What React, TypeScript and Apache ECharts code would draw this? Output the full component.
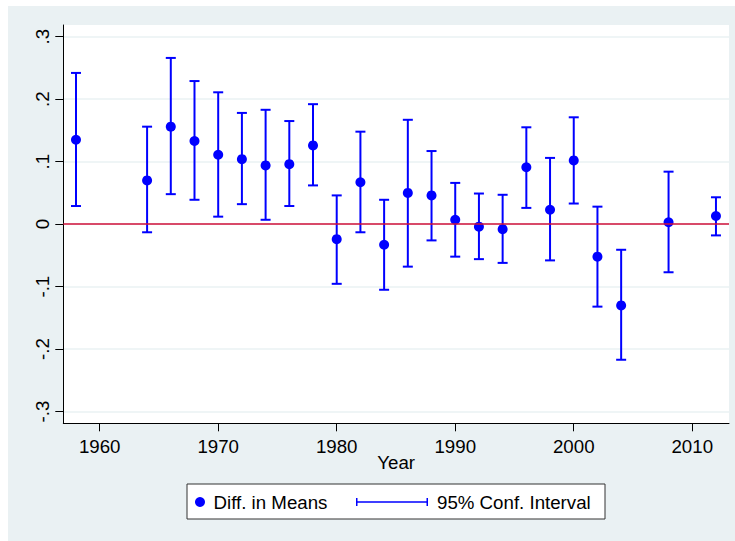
import React, { useEffect, useRef } from "react";
import * as echarts from "echarts";

const years = [1958, 1964, 1966, 1968, 1970, 1972, 1974, 1976, 1978, 1980, 1982, 1984, 1986, 1988, 1990, 1992, 1994, 1996, 1998, 2000, 2002, 2004, 2008, 2012];
const diffMeans = [0.135, 0.070, 0.156, 0.133, 0.111, 0.104, 0.094, 0.096, 0.126, -0.024, 0.067, -0.033, 0.050, 0.046, 0.007, -0.004, -0.008, 0.091, 0.023, 0.102, -0.052, -0.130, 0.003, 0.013];
const ciLower = [0.029, -0.013, 0.048, 0.039, 0.012, 0.032, 0.007, 0.029, 0.062, -0.0955, -0.013, -0.105, -0.068, -0.026, -0.052, -0.056, -0.062, 0.026, -0.058, 0.033, -0.132, -0.217, -0.077, -0.018];
const ciUpper = [0.242, 0.156, 0.266, 0.229, 0.211, 0.178, 0.183, 0.165, 0.192, 0.046, 0.148, 0.039, 0.167, 0.117, 0.066, 0.049, 0.047, 0.155, 0.106, 0.171, 0.028, -0.041, 0.084, 0.043];

const xTicks = [1960, 1970, 1980, 1990, 2000, 2010];
const yTicks = [-0.3, -0.2, -0.1, 0, 0.1, 0.2, 0.3];

const FONT = "'Liberation Sans', Arial, Helvetica, sans-serif";
const FS = 18.7;
const BLUE = "#0000FF";

function fmtY(v: number): string {
  const r = Math.round(v * 10) / 10;
  if (r === 0) return "0";
  const s = Math.abs(r).toFixed(1).replace(/^0/, "");
  return (r < 0 ? "-" : "") + s;
}

export default function App() {
  const ref = useRef<HTMLDivElement>(null);

  useEffect(() => {
    if (!ref.current) return;
    const chart = echarts.init(ref.current, undefined, { renderer: "svg" });

    const scatterData = years.map((y, i) => [y, diffMeans[i]]);
    const ciData = years.map((y, i) => [y, ciLower[i], ciUpper[i]]);

    const option: any = {
      animation: false,
      backgroundColor: "transparent",
      textStyle: { fontFamily: FONT },
      grid: {
        left: 55.3,
        top: 19,
        right: 6,
        bottom: 117.7,
        show: true,
        backgroundColor: "#ffffff",
        borderWidth: 0,
      },
      xAxis: {
        type: "value",
        min: 1956.93,
        max: 2013.1,
        name: "Year",
        nameLocation: "middle",
        nameGap: 30,
        nameMoveOverlap: false,
        nameTextStyle: { fontSize: FS, color: "#000", fontFamily: FONT },
        axisLine: { show: true, onZero: false, lineStyle: { color: "#000", width: 1 } },
        axisTick: { show: true, length: 8, customValues: xTicks, lineStyle: { color: "#000", width: 1 } },
        axisLabel: {
          show: true,
          customValues: xTicks,
          margin: 14,
          fontSize: FS,
          color: "#000",
          fontFamily: FONT,
          formatter: (v: number) => String(Math.round(v)),
        },
        splitLine: { show: false },
      },
      yAxis: {
        type: "value",
        min: -0.3187,
        max: 0.3187,
        axisLine: { show: true, onZero: false, lineStyle: { color: "#000", width: 1 } },
        axisTick: { show: true, length: 8, customValues: yTicks, lineStyle: { color: "#000", width: 1 } },
        axisLabel: {
          show: true,
          customValues: yTicks,
          rotate: 90,
          margin: 11,
          fontSize: FS,
          color: "#000",
          fontFamily: FONT,
          formatter: (v: number) => fmtY(v),
        },
        splitLine: { show: true, lineStyle: { color: "#EAF2F3", width: 1.5 } },
      },
      legend: [
        {
          data: [{ name: "Diff. in Means", icon: "circle" }],
          left: 187,
          top: 486,
          padding: 0,
          itemWidth: 10,
          itemHeight: 10,
          selectedMode: false,
          itemStyle: { opacity: 1 },
          textStyle: { fontSize: FS, color: "#000", fontFamily: FONT, lineHeight: 20, padding: [0, 0, 0, 3.5] },
        },
        {
          data: [
            {
              name: "95% Conf. Interval",
              icon: "path://M0,0h1.5v8h-1.5z M0,3.25h72v1.5h-72z M70.5,0h1.5v8h-1.5z",
            },
          ],
          left: 348,
          top: 486,
          padding: 0,
          itemWidth: 72,
          itemHeight: 8,
          symbolKeepAspect: false,
          selectedMode: false,
          textStyle: { fontSize: FS, color: "#000", fontFamily: FONT, lineHeight: 20, padding: [0, 0, 0, 4] },
        },
      ],
      graphic: [
        {
          type: "rect",
          z: 0,
          shape: { x: 179, y: 478, width: 418, height: 35 },
          style: { fill: "#ffffff", stroke: "#333333", lineWidth: 1 },
          silent: true,
        },
      ],
      series: [
        {
          name: "95% Conf. Interval",
          type: "custom",
          data: ciData,
          itemStyle: { color: BLUE },
          z: 2,
          renderItem: (params: any, api: any) => {
            const x = api.value(0);
            const lo = api.coord([x, api.value(1)]);
            const hi = api.coord([x, api.value(2)]);
            const half = 5;
            const st = { stroke: BLUE, lineWidth: 2 };
            return {
              type: "group",
              children: [
                { type: "line", shape: { x1: lo[0], y1: lo[1], x2: hi[0], y2: hi[1] }, style: st },
                { type: "line", shape: { x1: lo[0] - half, y1: lo[1], x2: lo[0] + half, y2: lo[1] }, style: st },
                { type: "line", shape: { x1: hi[0] - half, y1: hi[1], x2: hi[0] + half, y2: hi[1] }, style: st },
              ],
            };
          },
          markLine: {
            silent: true,
            symbol: "none",
            label: { show: false },
            lineStyle: { color: "#D0103A", width: 1.5, type: "solid" },
            data: [{ yAxis: 0 }],
          },
        },
        {
          name: "Diff. in Means",
          type: "scatter",
          data: scatterData,
          symbol: "circle",
          symbolSize: 10,
          itemStyle: { color: BLUE, opacity: 1 },
          z: 3,
        },
      ],
    };

    chart.setOption(option);
    return () => {
      chart.dispose();
    };
  }, []);

  return (
    <div
      ref={ref}
      style={{
        position: "fixed",
        left: 8,
        top: 6,
        width: 727,
        height: 535,
        background: "#EAF1F3",
      }}
    />
  );
}
